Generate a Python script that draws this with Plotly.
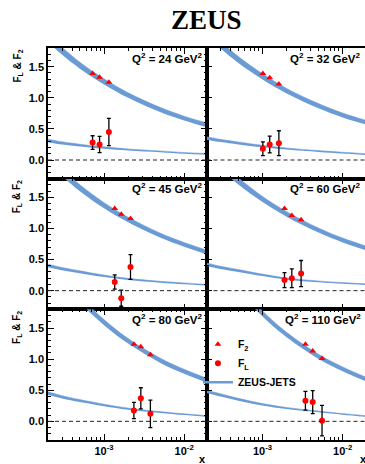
import math
import plotly.graph_objects as go
from plotly.subplots import make_subplots

# ---------------- data ----------------
q2_values = [24, 32, 45, 60, 80, 110]

x_q24 = [7.2e-4, 8.8e-4, 1.15e-3]
f2_q24 = [1.39, 1.33, 1.25]
fl_q24 = [0.28, 0.25, 0.45]
flerr_q24 = [0.11, 0.13, 0.22]

x_q32 = [1.01e-3, 1.23e-3, 1.6e-3]
f2_q32 = [1.39, 1.32, 1.22]
fl_q32 = [0.18, 0.25, 0.27]
flerr_q32 = [0.11, 0.135, 0.20]

x_q45 = [1.36e-3, 1.64e-3, 2.14e-3]
f2_q45 = [1.32, 1.23, 1.16]
fl_q45 = [0.14, -0.12, 0.38]
flerr_q45 = [0.115, 0.13, 0.20]

x_q60 = [1.88e-3, 2.32e-3, 3.03e-3]
f2_q60 = [1.32, 1.21, 1.14]
fl_q60 = [0.17, 0.20, 0.275]
flerr_q60 = [0.12, 0.15, 0.21]

x_q80 = [2.36e-3, 2.88e-3, 3.79e-3]
f2_q80 = [1.24, 1.20, 1.07]
fl_q80 = [0.175, 0.37, 0.12]
flerr_q80 = [0.13, 0.17, 0.22]

x_q110 = [3.43e-3, 4.23e-3, 5.53e-3]
f2_q110 = [1.24, 1.13, 1.01]
fl_q110 = [0.33, 0.31, 0.01]
flerr_q110 = [0.15, 0.185, 0.245]

# ZEUS-JETS prediction bands (centre values and half widths)
x_curve = [2e-4, 3e-4, 5e-4, 1e-3, 2e-3, 5e-3, 1e-2, 2e-2]
f2c_q24 = [1.96, 1.75, 1.52, 1.26, 1.04, 0.81, 0.67, 0.556]
f2c_q32 = [2.07, 1.85, 1.61, 1.34, 1.11, 0.87, 0.72, 0.60]
f2c_q45 = [2.12, 1.90, 1.65, 1.37, 1.14, 0.89, 0.74, 0.61]
f2c_q60 = [2.23, 2.00, 1.76, 1.47, 1.23, 0.97, 0.81, 0.68]
f2c_q80 = [2.58, 2.28, 1.96, 1.59, 1.29, 0.98, 0.80, 0.65]
f2c_q110 = [2.87, 2.53, 2.15, 1.73, 1.39, 1.04, 0.84, 0.67]
f2_halfwidth = [0.065, 0.06, 0.052, 0.045, 0.04, 0.037, 0.035, 0.034]

flc_q24 = [0.31, 0.27, 0.235, 0.195, 0.165, 0.135, 0.11, 0.095]
flc_q32 = [0.35, 0.31, 0.27, 0.22, 0.18, 0.14, 0.115, 0.09]
flc_q45 = [0.40, 0.35, 0.30, 0.235, 0.185, 0.14, 0.115, 0.09]
flc_q60 = [0.42, 0.37, 0.32, 0.25, 0.19, 0.145, 0.12, 0.10]
flc_q80 = [0.45, 0.39, 0.33, 0.26, 0.20, 0.145, 0.11, 0.08]
flc_q110 = [0.48, 0.42, 0.35, 0.27, 0.21, 0.155, 0.115, 0.08]
fl_halfwidth = [0.024, 0.022, 0.019, 0.016, 0.013, 0.011, 0.01, 0.01]

y_tickvals = [0.0, 0.5, 1.0, 1.5]
y_ticktext = ["0.0", "0.5", "1.0", "1.5"]
x_tickvals = [1e-3, 1e-2]
x_ticktext = ["10<sup>-3</sup>", "10<sup>-2</sup>"]
x_minor = [m * 10.0 ** e for e in (-4, -3, -2) for m in range(2, 10)]

panels = [
    (x_q24, f2_q24, fl_q24, flerr_q24, f2c_q24, flc_q24),
    (x_q32, f2_q32, fl_q32, flerr_q32, f2c_q32, flc_q32),
    (x_q45, f2_q45, fl_q45, flerr_q45, f2c_q45, flc_q45),
    (x_q60, f2_q60, fl_q60, flerr_q60, f2c_q60, flc_q60),
    (x_q80, f2_q80, fl_q80, flerr_q80, f2c_q80, flc_q80),
    (x_q110, f2_q110, fl_q110, flerr_q110, f2c_q110, flc_q110),
]

BAND = "#6b9bd4"
RED = "#ff0000"
FONT = "Liberation Sans"

fig = make_subplots(rows=3, cols=2, horizontal_spacing=0, vertical_spacing=0)

for i, (xp, f2, fl, flerr, f2c, flc) in enumerate(panels):
    r, c = i // 2 + 1, i % 2 + 1
    for cen, hw in ((flc, fl_halfwidth), (f2c, f2_halfwidth)):
        lo = [a - b for a, b in zip(cen, hw)]
        hi = [a + b for a, b in zip(cen, hw)]
        fig.add_trace(go.Scatter(x=x_curve, y=lo, mode="lines",
                                 line=dict(width=0, color=BAND, shape="spline"),
                                 showlegend=False, hoverinfo="skip"), row=r, col=c)
        fig.add_trace(go.Scatter(x=x_curve, y=hi, mode="lines", fill="tonexty",
                                 fillcolor=BAND,
                                 line=dict(width=0.5, color=BAND, shape="spline"),
                                 showlegend=False, hoverinfo="skip"), row=r, col=c)
    fig.add_trace(go.Scatter(x=xp, y=f2, mode="markers", name="F<sub>2</sub>",
                             marker=dict(symbol="triangle-up", size=6, color=RED),
                             showlegend=(i == 0)), row=r, col=c)
    fig.add_trace(go.Scatter(x=xp, y=fl, mode="markers", name="F<sub>L</sub>",
                             marker=dict(symbol="circle", size=6, color=RED),
                             error_y=dict(type="data", array=flerr, color="black",
                                          thickness=1.3, width=2),
                             showlegend=(i == 0)), row=r, col=c)

fig.add_trace(go.Scatter(x=[None], y=[None], mode="lines", name="ZEUS-JETS",
                         line=dict(color=BAND, width=2.5), showlegend=True),
              row=3, col=2)

tickfont = dict(family=FONT, size=11, color="black", weight="bold")
for i in range(6):
    r, c = i // 2 + 1, i % 2 + 1
    fig.update_xaxes(type="log", range=[math.log10(2e-4), math.log10(1.9e-2)],
                     showline=True, linecolor="black", linewidth=1.5, mirror="ticks",
                     ticks="inside", ticklen=6, tickwidth=1, tickcolor="black",
                     tickvals=x_tickvals, ticktext=x_ticktext,
                     showticklabels=(r == 3), tickfont=tickfont,
                     minor=dict(tickvals=x_minor, ticks="inside", ticklen=3,
                                tickwidth=1, tickcolor="black"),
                     showgrid=False, zeroline=False, row=r, col=c)
    fig.update_yaxes(range=[-0.3, 1.8], showline=True, linecolor="black", linewidth=1.5,
                     mirror=("ticks" if c == 1 else False),
                     ticks="inside", ticklen=6, tickwidth=1, tickcolor="black",
                     tickvals=y_tickvals, ticktext=y_ticktext,
                     showticklabels=(c == 1), tickfont=tickfont,
                     minor=dict(dtick=0.1, ticks="inside", ticklen=3, tickwidth=1,
                                tickcolor="black"),
                     showgrid=False, zeroline=False, row=r, col=c)

annotations = []
shapes = []
for i, q2 in enumerate(q2_values):
    r, c = i // 2 + 1, i % 2 + 1
    ax = "" if i == 0 else str(i + 1)
    shapes.append(dict(type="line", xref=f"x{ax} domain", x0=0, x1=1,
                       yref=f"y{ax}", y0=0, y1=0,
                       line=dict(color="#222222", width=1, dash="4px,3px")))
    annotations.append(dict(xref=f"x{ax} domain", yref=f"y{ax} domain",
                            x=0.99, y=0.995, xanchor="right", yanchor="top",
                            showarrow=False,
                            text=f"Q<sup>2</sup> = {q2} GeV<sup>2</sup>",
                            font=dict(family=FONT, size=11.5, color="black", weight="bold")))
    if c == 1:
        annotations.append(dict(xref="paper", yref=f"y{ax} domain",
                                x=-0.0975, y=1.0, xanchor="center", yanchor="top",
                                textangle=-90, showarrow=False,
                                text="F<sub>L</sub> & F<sub>2</sub>",
                                font=dict(family=FONT, size=10, color="black", weight="bold")))
    if r == 3:
        annotations.append(dict(xref=f"x{ax} domain", yref="paper",
                                x=(0.975 if c == 1 else 0.99), y=-0.048,
                                xanchor="center", yanchor="middle", showarrow=False,
                                text="x",
                                font=dict(family=FONT, size=11, color="black", weight="bold")))

annotations.append(dict(xref="paper", yref="paper", x=0.5, y=1.071,
                        xanchor="center", yanchor="middle", showarrow=False,
                        text="ZEUS",
                        font=dict(family="Liberation Serif", size=27, color="black",
                                  weight="bold")))

fig.update_layout(
    width=365, height=464,
    margin=dict(l=48, r=0, t=48, b=24),
    paper_bgcolor="white", plot_bgcolor="white",
    annotations=annotations, shapes=shapes,
    showlegend=True,
    legend=dict(x=0.473, y=0.281, xanchor="left", yanchor="top",
                traceorder="normal",
                bgcolor="rgba(0,0,0,0)", tracegroupgap=0,
                font=dict(family=FONT, size=10.5, color="black", weight="bold")),
)

# remove the default 8px page margin so the 365x464 figure fills the window exactly
fig.write_html("out.html", config={"displayModeBar": False},
               post_script="document.body.style.margin='0px';")
